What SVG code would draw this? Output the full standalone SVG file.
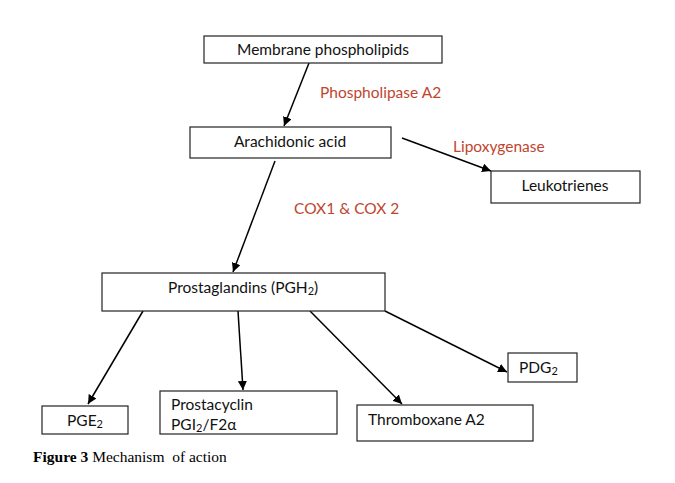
<svg xmlns="http://www.w3.org/2000/svg" width="675" height="483" viewBox="0 0 675 483">
<defs>
<marker id="ah" viewBox="0 0 10 10" refX="10" refY="5" markerWidth="9" markerHeight="9" markerUnits="userSpaceOnUse" orient="auto">
<path d="M0,0 L10,5 L0,10 z" fill="#000"/>
</marker>
<style>
.box{fill:#fff;stroke:#222;stroke-width:1.2}
.t{font-family:Lato,"Open Sans","Liberation Sans",sans-serif;font-size:15.5px;fill:#111}
.e{font-family:Lato,"Open Sans","Liberation Sans",sans-serif;font-size:15.5px;fill:#C0452F}
.c{stroke:#000;stroke-width:1.5;fill:none;marker-end:url(#ah)}
.cap{font-family:"Liberation Serif","Times New Roman",serif;font-size:15.5px;fill:#000}
</style>
</defs>
<rect width="675" height="483" fill="#fff"/>
<g id="connectors">
<line class="c" x1="309" y1="63" x2="284" y2="126"/>
<line class="c" x1="402" y1="138" x2="491" y2="171"/>
<line class="c" x1="275" y1="161" x2="233" y2="272"/>
<line class="c" x1="143" y1="311" x2="88" y2="404"/>
<line class="c" x1="238" y1="311" x2="243" y2="390"/>
<line class="c" x1="310" y1="311" x2="402" y2="404"/>
<line class="c" x1="385" y1="311" x2="507" y2="372"/>
</g>
<g id="labels">
<text class="e" x="320" y="98">Phospholipase A2</text>
<text class="e" x="453" y="152">Lipoxygenase</text>
<text class="e" x="294" y="214">COX1 &amp; COX 2</text>
</g>
<g id="membrane">
<rect class="box" x="204" y="36" width="238" height="27"/>
<text class="t" x="323" y="55" text-anchor="middle">Membrane phospholipids</text>
</g>
<g id="arachidonic">
<rect class="box" x="190" y="127" width="201" height="31"/>
<text class="t" x="290" y="147" text-anchor="middle">Arachidonic acid</text>
</g>
<g id="leukotrienes">
<rect class="box" x="491" y="171" width="149" height="32"/>
<text class="t" x="565" y="191" text-anchor="middle">Leukotrienes</text>
</g>
<g id="prostaglandins">
<rect class="box" x="102" y="273" width="283" height="38"/>
<text class="t" x="168" y="293">Prostaglandins (PGH<tspan font-size="11" dy="2">2</tspan><tspan dy="-2">)</tspan></text>
</g>
<g id="pge2">
<rect class="box" x="42" y="406" width="86" height="28"/>
<text class="t" x="67" y="426">PGE<tspan font-size="11" dy="2">2</tspan></text>
</g>
<g id="prostacyclin">
<rect class="box" x="160" y="391" width="177" height="43"/>
<text class="t" x="171" y="410">Prostacyclin</text>
<text class="t" x="171" y="430">PGI<tspan font-size="11" dy="2">2</tspan><tspan dy="-2">/F2α</tspan></text>
</g>
<g id="thromboxane">
<rect class="box" x="357" y="405" width="176" height="36"/>
<text class="t" x="368" y="425">Thromboxane A2</text>
</g>
<g id="pdg2">
<rect class="box" x="508" y="353" width="69" height="29"/>
<text class="t" x="519" y="373">PDG<tspan font-size="11" dy="2">2</tspan></text>
</g>
<text class="cap" x="33" y="462"><tspan font-weight="bold">Figure 3</tspan> Mechanism&#160; of action</text>
</svg>
